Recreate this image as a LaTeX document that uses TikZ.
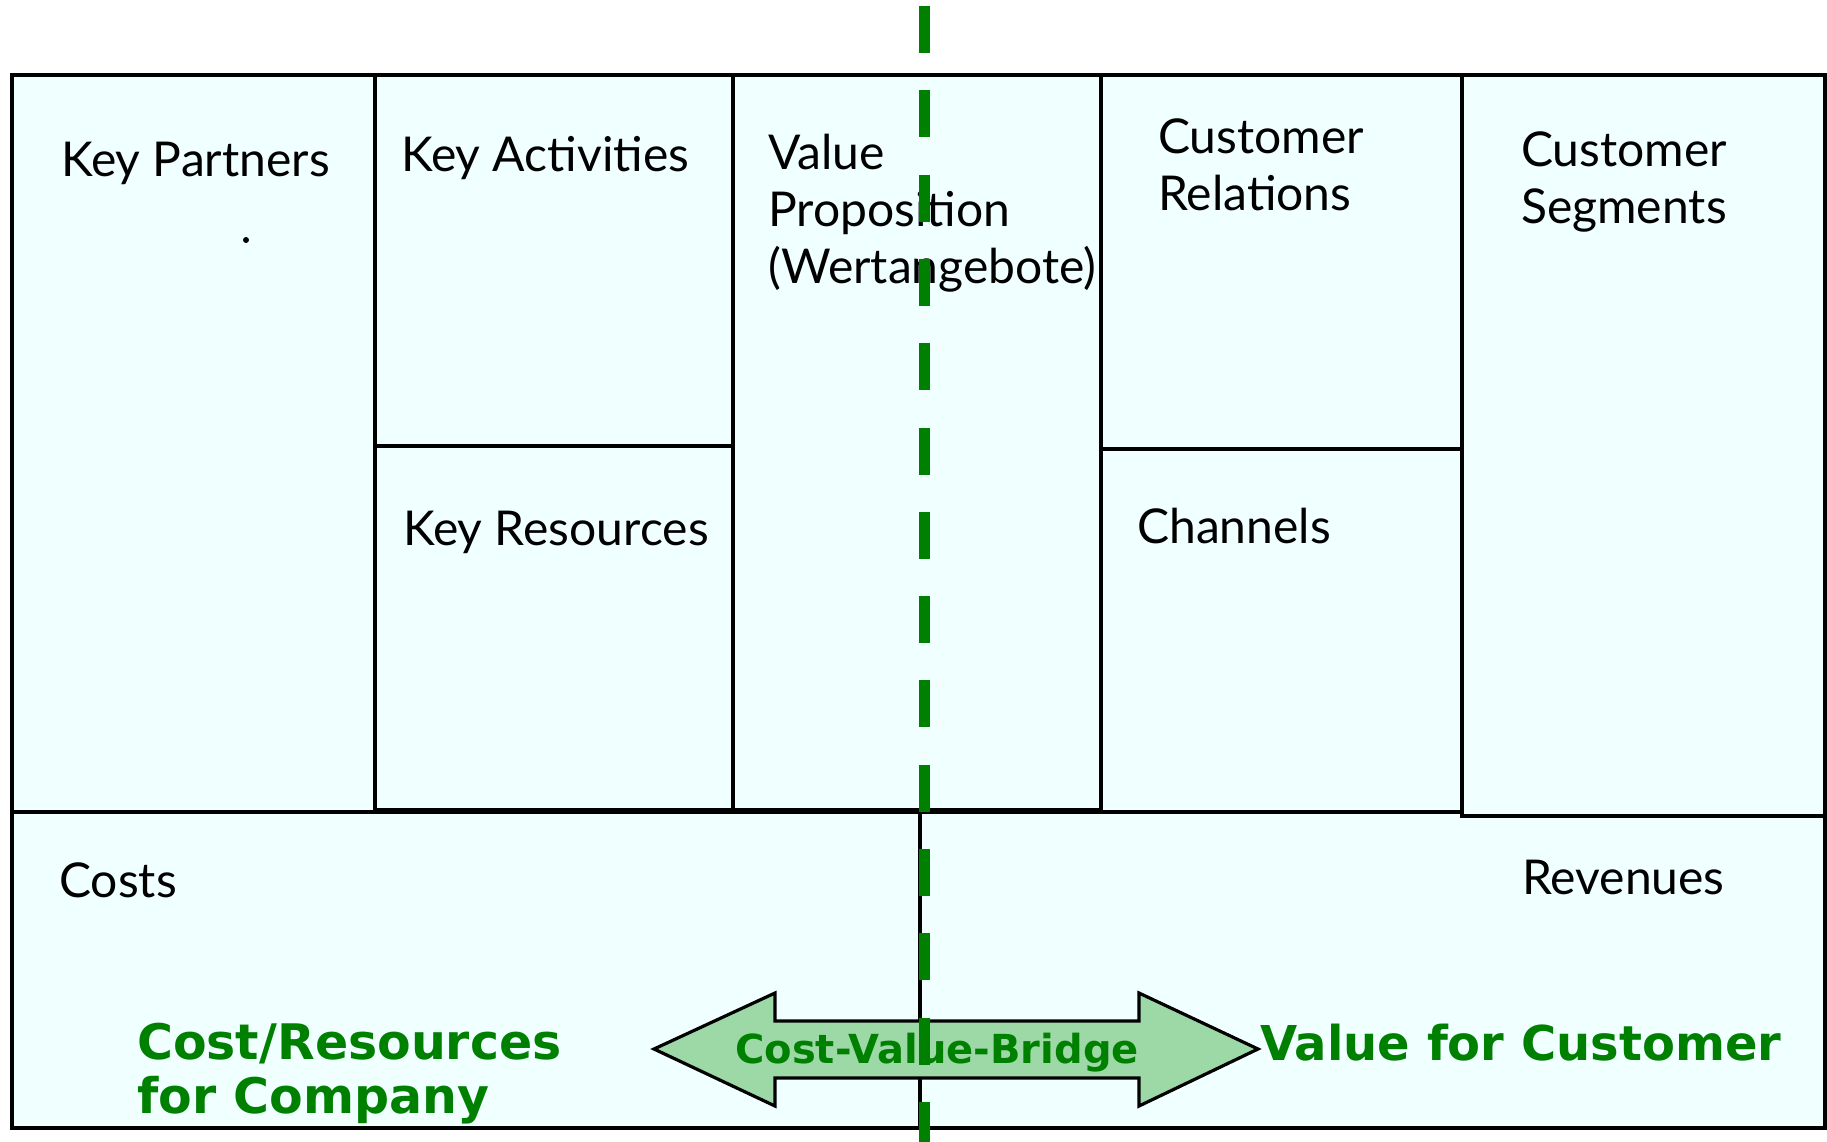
\documentclass[tikz,border=0pt]{standalone}
\usepackage{fontspec}
\setmainfont{Lato}
\newfontfamily\bridgefont{DejaVu Sans}
\usetikzlibrary{positioning}

\definecolor{cellfill}{RGB}{240,255,255}
\definecolor{bridgefill}{RGB}{157,217,166}
\definecolor{canvasgreen}{RGB}{0,128,0}

\tikzset{
  cell/.style={draw=black, fill=cellfill, line width=3.2pt},
  celltext/.style={anchor=base west, inner sep=0pt, align=left, font=\fontsize{48}{57}\selectfont},
  greentext/.style={anchor=base west, inner sep=0pt, align=left, text=canvasgreen, font=\bridgefont\bfseries\fontsize{49}{54}\selectfont},
}

\begin{document}
\begin{tikzpicture}[x=1pt, y=-1pt]
\useasboundingbox (0,0) rectangle (1827,1142);

% lower blocks
\draw[cell] (12,812) rectangle (920,1128);
\draw[cell] (920,812) rectangle (1825,1128);

% upper blocks
\draw[cell] (12,75) rectangle (375,812);
\draw[cell] (375,75) rectangle (733,446);
\draw[cell] (375,446) rectangle (733,810);
\draw[cell] (733,75) rectangle (1101,810);
\draw[cell] (1101,75) rectangle (1462,449);
\draw[cell] (1101,449) rectangle (1462,812);
\draw[cell] (1462,75) rectangle (1825,816);

% labels (multi-line ones sit on their last baseline)
\node[celltext] (partners) at (61,177) {Key Partners};
\node[circle, fill=black, inner sep=0pt, minimum size=6pt] (dot) at (246,240) {};
\node[celltext] (activities) at (401,172) {Key Activities};
\node[celltext] (resources) at (403,545) {Key Resources};
\node[celltext] (value) at (768,283) {Value\\Proposition\\(Wertangebote)};
\node[celltext] (relations) at (1158,211) {Customer\\Relations};
\node[celltext] (channels) at (1137,543) {Channels};
\node[celltext] (segments) at (1521,223) {Customer\\Segments};
\node[celltext] (costs) at (59,897) {Costs};
\node[celltext] (revenues) at (1522,894) {Revenues};

% bridge
\draw[fill=bridgefill, line width=3.2pt, line join=miter]
  (654,1049) -- (775,993) -- (775,1021) -- (1139,1021) -- (1139,993)
  -- (1258,1049) -- (1139,1106) -- (1139,1078) -- (775,1078) -- (775,1106) -- cycle;
\node[greentext, anchor=base, font=\bridgefont\bfseries\fontsize{40}{45}\selectfont] (bridge) at (937,1063) {Cost-Value-Bridge};

\node[greentext] (company) at (137,1113) {Cost/Resources\\for Company};
\node[greentext, font=\bridgefont\bfseries\fontsize{48}{54}\selectfont] (customer) at (1260,1060) {Value for Customer};

% dividing line
\draw[canvasgreen, line width=11pt, dash pattern=on 47pt off 37.3pt] (924,6) -- (924,1142);
\end{tikzpicture}
\end{document}
